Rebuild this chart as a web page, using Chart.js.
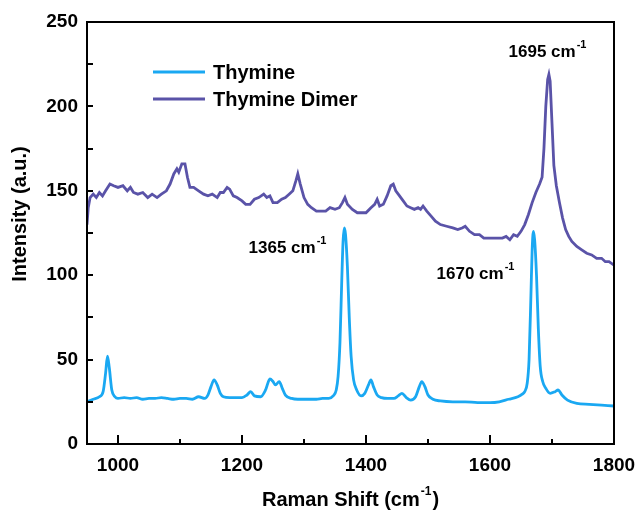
<!DOCTYPE html>
<html>
<head>
<meta charset="utf-8">
<title>Raman spectra</title>
<script src="https://cdn.jsdelivr.net/npm/chart.js@4.4.1/dist/chart.umd.min.js"></script>
<style>
  html, body { margin: 0; padding: 0; background: #fff; }
  .container { width: 637px; height: 519px; position: relative; }
</style>
</head>
<body>
<div class="container">
  <canvas id="ramanChart"></canvas>
</div>
<script>
// Raman shift (cm-1) and intensity (a.u.) for each spectrum
const thymineShift = [
  950, 960, 970, 976, 980, 983, 986, 990, 995, 1000,
  1010, 1020, 1030, 1040, 1050, 1060, 1070, 1080, 1090, 1100,
  1110, 1120, 1130, 1140, 1145, 1150, 1155, 1160, 1165, 1170,
  1180, 1190, 1200, 1208, 1214, 1220, 1230, 1238, 1245, 1250,
  1254, 1260, 1265, 1270, 1280, 1290, 1300, 1310, 1320, 1330,
  1340, 1347, 1352, 1355, 1358, 1361, 1363, 1365, 1367, 1370,
  1373, 1376, 1380, 1385, 1392, 1398, 1404, 1408, 1412, 1418,
  1425, 1435, 1445, 1452, 1458, 1465, 1472, 1480, 1486, 1490,
  1495, 1500, 1508, 1520, 1540, 1560, 1580, 1600, 1615, 1630,
  1645, 1652, 1656, 1660, 1663, 1666, 1668, 1670, 1672, 1675,
  1678, 1681, 1685, 1690, 1697, 1705, 1710, 1716, 1725, 1740,
  1760, 1780, 1800
];
const thymineIntensity = [
  25, 26.5, 28, 31, 42, 52, 45, 32, 28, 27,
  27.5, 27, 27.5, 26.5, 27, 27, 27.5, 27, 26.5, 27,
  27, 26.5, 28, 27, 29, 34, 38, 35, 30, 28,
  27.5, 27.5, 27.5, 29, 31, 28.5, 28, 32, 38.5, 37,
  35, 37, 33, 29, 27, 26.5, 26.5, 26.5, 26.5, 27,
  27, 28.5, 32, 40, 60, 98, 120, 128, 124, 105,
  75, 52, 38, 32, 28.5, 30, 35, 38, 34, 29,
  27.5, 27, 27, 28.5, 30, 27.5, 26, 28, 34, 37,
  34, 29, 26.5, 25.5, 25, 25, 24.5, 24.5, 25, 26.5,
  28, 29.5, 31, 36, 50, 88, 115, 126, 121, 100,
  68, 46, 37, 33, 30, 31, 32, 29, 26, 24,
  23.5, 23, 22.5
];

const dimerShift = [
  950, 952, 955, 960, 965, 970, 975, 980, 987, 993,
  1000, 1008, 1015, 1020, 1025, 1032, 1040, 1048, 1055, 1063,
  1070, 1078, 1084, 1090, 1095, 1098, 1103, 1108, 1112, 1116,
  1122, 1130, 1138, 1145, 1152, 1160, 1165, 1170, 1176, 1180,
  1186, 1192, 1200, 1206, 1213, 1220, 1227, 1235, 1240, 1245,
  1250, 1257, 1264, 1270, 1276, 1282, 1287, 1290, 1294, 1300,
  1306, 1312, 1320, 1328, 1335, 1342, 1350, 1357, 1362, 1366,
  1370, 1378, 1386, 1393, 1400, 1408, 1414, 1418, 1422, 1428,
  1434, 1440, 1444, 1448, 1452, 1460, 1466, 1472, 1478, 1484,
  1488, 1492, 1498, 1505, 1512, 1520, 1530, 1540, 1548, 1555,
  1560, 1567, 1575, 1583, 1590, 1600, 1610, 1620, 1626, 1632,
  1638, 1644, 1650, 1656, 1662, 1668, 1674, 1680, 1684, 1687,
  1690, 1693, 1695, 1697, 1700, 1703, 1707, 1712, 1717, 1722,
  1727, 1732, 1740, 1748, 1756, 1764, 1772, 1780, 1786, 1792,
  1800
];
const dimerIntensity = [
  130, 140, 146, 148, 146, 149, 147, 150, 154, 153,
  152, 153, 150, 152, 149, 148, 149, 146, 148, 146,
  148, 150, 154, 160, 163, 161, 166, 166, 158, 152,
  152, 150, 148, 147, 148, 146, 149, 149, 152, 151,
  147, 146, 144, 142, 142, 145, 146, 148, 146, 147,
  143, 143, 145, 146, 148, 150, 156, 160, 154, 146,
  142, 140, 138, 138, 138, 140, 139, 140, 143, 146,
  142, 139, 137, 137, 137, 140, 142, 145, 141, 142,
  147, 153, 154, 150, 148, 144, 141, 140, 139, 140,
  139, 141, 138, 135, 132, 130, 129, 128, 127, 128,
  129, 126, 124, 124, 122, 122, 122, 122, 123, 121,
  124, 123, 126, 130, 136, 143, 149, 154, 158, 175,
  200, 216, 219, 215, 190, 165, 153, 143, 134, 127,
  123, 120, 117, 115, 113, 112, 110, 110, 108, 108,
  106
];

const xTickValues = [1000, 1200, 1400, 1600, 1800];
const xMinorValues = [1100, 1300, 1500, 1700];
const yTickValues = [0, 50, 100, 150, 200, 250];
const yMinorValues = [25, 75, 125, 175, 225];

// peak labels: [text, x px, y px]
const peakLabels = [
  ["1365 cm", 288, 248],
  ["1670 cm", 476, 274],
  ["1695 cm", 548, 52]
];

const THYMINE_COLOR = "#1aa8f2";
const DIMER_COLOR = "#5a53a8";
const FONT = "'Liberation Sans', Arial, Helvetica, sans-serif";

function toPoints(xs, ys) {
  return xs.map((x, i) => ({ x: x, y: ys[i] }));
}

// text, a raised "-1", then an optional tail, centred on x
function drawWithSup(ctx, text, sup, tail, x, y, size) {
  ctx.save();
  ctx.textBaseline = "middle";
  ctx.textAlign = "left";
  const big = "bold " + size + "px " + FONT;
  const small = "bold " + Math.round(size * 0.62) + "px " + FONT;
  ctx.font = big;
  const w1 = ctx.measureText(text).width;
  const w3 = ctx.measureText(tail).width;
  ctx.font = small;
  const w2 = ctx.measureText(sup).width;
  const left = x - (w1 + w2 + w3 + 2) / 2;
  ctx.font = big;
  ctx.fillText(text, left, y);
  ctx.fillText(tail, left + w1 + w2 + 2, y);
  ctx.font = small;
  ctx.fillText(sup, left + w1 + 1, y - size * 0.42);
  ctx.restore();
}

// frame, inward ticks, legend, axis titles and peak labels
const decorations = {
  id: "decorations",
  afterDraw(chart) {
    const ctx = chart.ctx;
    const area = chart.chartArea;
    const xs = chart.scales.x;
    const ys = chart.scales.y;
    ctx.save();
    ctx.strokeStyle = "#000";
    ctx.lineWidth = 2;
    ctx.strokeRect(area.left, area.top, area.right - area.left, area.bottom - area.top);

    ctx.beginPath();
    xTickValues.forEach((v) => {
      const px = Math.round(xs.getPixelForValue(v));
      ctx.moveTo(px, area.bottom);
      ctx.lineTo(px, area.bottom - 9);
    });
    xMinorValues.forEach((v) => {
      const px = Math.round(xs.getPixelForValue(v));
      ctx.moveTo(px, area.bottom);
      ctx.lineTo(px, area.bottom - 5);
    });
    yTickValues.concat(yMinorValues).forEach((v) => {
      const py = Math.round(ys.getPixelForValue(v));
      ctx.moveTo(area.left, py);
      ctx.lineTo(area.left + 6, py);
    });
    ctx.stroke();

    // legend
    const legendItems = [
      ["Thymine", THYMINE_COLOR, 72],
      ["Thymine Dimer", DIMER_COLOR, 99]
    ];
    legendItems.forEach(([label, color, y]) => {
      ctx.strokeStyle = color;
      ctx.lineWidth = 3;
      ctx.beginPath();
      ctx.moveTo(153, y);
      ctx.lineTo(205, y);
      ctx.stroke();
      ctx.fillStyle = "#000";
      ctx.font = "bold 20px " + FONT;
      ctx.textAlign = "left";
      ctx.textBaseline = "middle";
      ctx.fillText(label, 213, y + 1);
    });

    ctx.fillStyle = "#000";
    peakLabels.forEach(([text, x, y]) => {
      drawWithSup(ctx, text, "-1", "", x, y, 17);
    });

    // axis titles
    drawWithSup(ctx, "Raman Shift (cm", "-1", ")", (area.left + area.right) / 2, 500, 20);
    ctx.save();
    ctx.translate(20, 214);
    ctx.rotate(-Math.PI / 2);
    ctx.font = "bold 20px " + FONT;
    ctx.textAlign = "center";
    ctx.textBaseline = "middle";
    ctx.fillText("Intensity (a.u.)", 0, 0);
    ctx.restore();
    ctx.restore();
  }
};

const tickFont = { family: FONT, size: 19, weight: "bold" };

new Chart(document.getElementById("ramanChart"), {
  type: "line",
  data: {
    datasets: [
      {
        label: "Thymine",
        data: toPoints(thymineShift, thymineIntensity),
        borderColor: THYMINE_COLOR,
        borderWidth: 2.8,
        pointRadius: 0,
        cubicInterpolationMode: "monotone"
      },
      {
        label: "Thymine Dimer",
        data: toPoints(dimerShift, dimerIntensity),
        borderColor: DIMER_COLOR,
        borderWidth: 2.8,
        pointRadius: 0,
        tension: 0
      }
    ]
  },
  options: {
    responsive: true,
    maintainAspectRatio: false,
    animation: false,
    layout: { padding: { top: 22, right: 0, left: 0, bottom: 0 } },
    plugins: {
      legend: { display: false },
      tooltip: { enabled: false }
    },
    scales: {
      x: {
        type: "linear",
        min: 950,
        max: 1800,
        grid: { display: false, drawTicks: false },
        border: { display: false },
        afterBuildTicks: (scale) => {
          scale.ticks = xTickValues.map((v) => ({ value: v }));
        },
        afterFit: (scale) => {
          scale.height = 75;
          scale.paddingRight = 23;
        },
        ticks: { color: "#000", font: tickFont, padding: 10, maxRotation: 0, callback: (v) => String(v) }
      },
      y: {
        min: 0,
        max: 250,
        grid: { display: false, drawTicks: false },
        border: { display: false },
        afterBuildTicks: (scale) => {
          scale.ticks = yTickValues.map((v) => ({ value: v }));
        },
        afterFit: (scale) => { scale.width = 87; },
        ticks: { color: "#000", font: tickFont, padding: 9, callback: (v) => String(v) }
      }
    }
  },
  plugins: [decorations]
});
</script>
</body>
</html>
